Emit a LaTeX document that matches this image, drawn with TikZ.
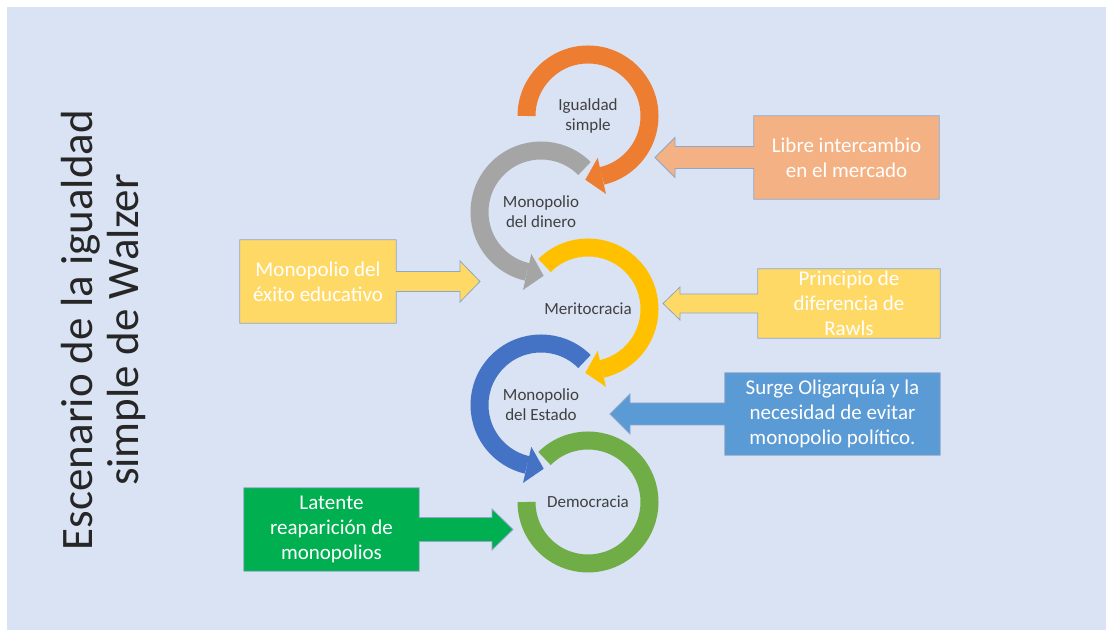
\documentclass[tikz,border=0pt]{standalone}
\usepackage{fontspec}
\setmainfont{Carlito}
\usetikzlibrary{arrows.meta,backgrounds}
\definecolor{fondo}{HTML}{DAE3F3}
\definecolor{naranja}{HTML}{ED7D31}
\definecolor{gris}{HTML}{A5A5A5}
\definecolor{oro}{HTML}{FFC000}
\definecolor{azul}{HTML}{4472C4}
\definecolor{verde}{HTML}{70AD47}
\definecolor{naranjaclaro}{HTML}{F4B183}
\definecolor{oroclaro}{HTML}{FFD966}
\definecolor{azulclaro}{HTML}{5B9BD5}
\definecolor{verdeintenso}{HTML}{00B050}
\definecolor{borde}{HTML}{8FA6C8}
\definecolor{texto}{HTML}{404040}
\begin{document}
\begin{tikzpicture}[x=1bp,y=1bp,
 anillo/.style={line width=18bp},
 flecha/.style={anillo,-{Triangle[length=17bp,width=37bp,line width=0pt]},shorten >=-17bp},
 etapa/.style={align=center,text=texto,font=\fontsize{17bp}{20bp}\selectfont},
 caja/.style={align=center,text=white,inner sep=0pt,font=\fontsize{21bp}{25bp}\selectfont},
 borde caja/.style={draw=borde,line width=0.8bp,line join=miter}]
 \useasboundingbox (0,0) rectangle (1106,630);
 \node[rotate=90,align=center,text=black!85,font=\fontsize{45bp}{46bp}\selectfont] (titulo) at (103.5,300) {Escenario de la igualdad\\simple de Walzer};
 % etapas
 \node[etapa] (igualdad) at (588,514) {Igualdad\\simple};
 \node[etapa] (dinero) at (541,418) {Monopolio\\del dinero};
 \node[etapa] (merito) at (588,321) {Meritocracia};
 \node[etapa] (estado) at (541,225) {Monopolio\\del Estado};
 \node[etapa] (democracia) at (588,128) {Democracia};
 \draw[flecha,naranja] (igualdad.center) ++(180:61.5bp) arc[start angle=180,end angle=-77,radius=61.5bp];
 \draw[flecha,gris] (dinero.center) ++(45:61.5bp) arc[start angle=45,end angle=257,radius=61.5bp];
 \draw[flecha,oro] (merito.center) ++(135:61.5bp) arc[start angle=135,end angle=-77,radius=61.5bp];
 \draw[flecha,azul] (estado.center) ++(45:61.5bp) arc[start angle=45,end angle=257,radius=61.5bp];
 \draw[anillo,verde] (democracia.center) ++(135:61.5bp) arc[start angle=135,end angle=-180,radius=61.5bp];
 % cajas
 \node[caja,minimum width=185bp,minimum height=83bp] (libre) at (846.5,472.5) {Libre intercambio\\en el mercado};
 \node[caja,minimum width=156bp,minimum height=83bp] (exito) at (318,348.5) {Monopolio del\\éxito educativo};
 \node[caja,minimum width=182bp,minimum height=69bp] (rawls) at (849,326.5) {Principio de\\diferencia de\\Rawls};
 \node[caja,minimum width=215bp,minimum height=82bp] (oligarquia) at (832.5,216) {Surge Oligarquía y la\\necesidad de evitar\\monopolio político.};
 \node[caja,minimum width=175bp,minimum height=83bp] (latente) at (331.5,100.5) {Latente\\reaparición de\\monopolios};
 \coordinate (pA) at (655,472.5);
 \coordinate (pB) at (480,348.5);
 \coordinate (pC) at (663,326.5);
 \coordinate (pD) at (610,216);
 \coordinate (pE) at (513,100.5);
 \begin{scope}[on background layer]
 \fill[fondo] (7,0) rectangle (1106,623);
 \draw[borde caja,fill=naranjaclaro] (libre.south west) -- (libre.south east) -- (libre.north east) -- (libre.north west)
  -- ([yshift=11bp]libre.west) -- ([xshift=20bp,yshift=11bp]pA) -- ([xshift=20bp,yshift=20bp]pA) -- (pA)
  -- ([xshift=20bp,yshift=-20bp]pA) -- ([xshift=20bp,yshift=-11bp]pA) -- ([yshift=-11bp]libre.west) -- cycle;
 \draw[borde caja,fill=oroclaro] (exito.north east) -- (exito.north west) -- (exito.south west) -- (exito.south east)
  -- ([yshift=-10bp]exito.east) -- ([xshift=-20bp,yshift=-10bp]pB) -- ([xshift=-20bp,yshift=-20.5bp]pB) -- (pB)
  -- ([xshift=-20bp,yshift=20.5bp]pB) -- ([xshift=-20bp,yshift=10bp]pB) -- ([yshift=10bp]exito.east) -- cycle;
 \draw[borde caja,fill=oroclaro] (rawls.south west) -- (rawls.south east) -- (rawls.north east) -- (rawls.north west)
  -- ([yshift=9.5bp]rawls.west) -- ([xshift=17bp,yshift=9.5bp]pC) -- ([xshift=17bp,yshift=16.5bp]pC) -- (pC)
  -- ([xshift=17bp,yshift=-16.5bp]pC) -- ([xshift=17bp,yshift=-9.5bp]pC) -- ([yshift=-9.5bp]rawls.west) -- cycle;
 \draw[borde caja,fill=azulclaro] (oligarquia.south west) -- (oligarquia.south east) -- (oligarquia.north east) -- (oligarquia.north west)
  -- ([yshift=11bp]oligarquia.west) -- ([xshift=20bp,yshift=11bp]pD) -- ([xshift=20bp,yshift=20bp]pD) -- (pD)
  -- ([xshift=20bp,yshift=-20bp]pD) -- ([xshift=20bp,yshift=-11bp]pD) -- ([yshift=-11bp]oligarquia.west) -- cycle;
 \draw[borde caja,fill=verdeintenso] (latente.north east) -- (latente.north west) -- (latente.south west) -- (latente.south east)
  -- ([yshift=-12bp]latente.east) -- ([xshift=-21bp,yshift=-12bp]pE) -- ([xshift=-21bp,yshift=-20.5bp]pE) -- (pE)
  -- ([xshift=-21bp,yshift=20.5bp]pE) -- ([xshift=-21bp,yshift=12bp]pE) -- ([yshift=12bp]latente.east) -- cycle;
 \end{scope}
\end{tikzpicture}
\end{document}
